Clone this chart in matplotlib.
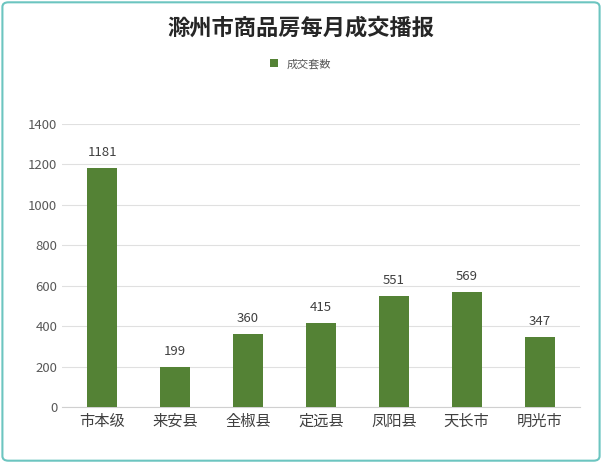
import matplotlib.pyplot as plt
from matplotlib import font_manager as fm
from matplotlib.patches import FancyBboxPatch

# pick whatever CJK face matplotlib actually registered
cjk = [f.name for f in fm.fontManager.ttflist if "CJK" in f.name]
plt.rcParams["font.family"] = (["Noto Sans CJK SC"] if "Noto Sans CJK SC" in cjk else cjk[:1]) + ["DejaVu Sans"]

categories = ["市本级", "来安县", "全椒县", "定远县", "凤阳县", "天长市", "明光市"]
sales = [1181, 199, 360, 415, 551, 569, 347]
y_ticks = [0, 200, 400, 600, 800, 1000, 1200, 1400]

BAR_COLOR = "#548235"

fig = plt.figure(figsize=(6.02, 4.63), dpi=100)
fig.patches.append(FancyBboxPatch((0.004, 0.005), 0.992, 0.99, boxstyle="round,pad=0,rounding_size=0.01",
                                  transform=fig.transFigure, fill=False, edgecolor="#6cc5c0", linewidth=1.5))
ax = fig.add_axes([0.103, 0.121, 0.86, 0.611])

x = range(len(categories))
ax.bar(x, sales, width=0.41, color=BAR_COLOR, label="成交套数", zorder=3)
for xi, v in zip(x, sales):
    ax.text(xi, v + 45, str(v), ha="center", va="bottom", fontsize=9.5, color="#404040")

ax.set_ylim(0, 1400)
ax.set_xlim(-0.55, len(categories) - 0.45)
ax.set_yticks(y_ticks)
ax.set_xticks(list(x))
ax.set_xticklabels(categories, fontsize=11, color="#404040")
ax.tick_params(axis="y", labelsize=9.5, colors="#595959", length=0)
ax.tick_params(axis="x", length=0, pad=4)
ax.grid(axis="y", color="#e0e0e0", linewidth=0.8, zorder=0)
for s in ["top", "right", "left"]:
    ax.spines[s].set_visible(False)
ax.spines["bottom"].set_color("#d0d0d0")

fig.text(0.5, 0.94, "滁州市商品房每月成交播报", ha="center", va="center",
         fontsize=16, fontweight="bold", color="#262626")
fig.legend(loc="center", bbox_to_anchor=(0.5, 0.862), frameon=False, fontsize=8,
           handlelength=0.7, handleheight=0.7, labelcolor="#595959")

fig.savefig("out.png", dpi=100)
